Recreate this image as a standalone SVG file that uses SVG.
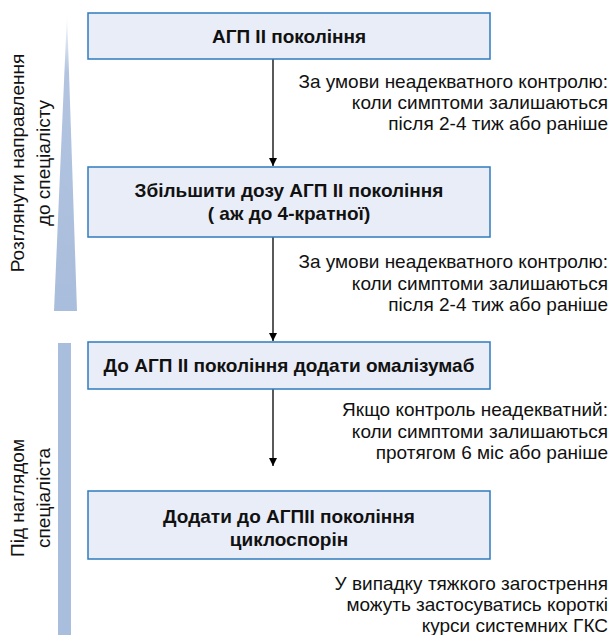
<svg xmlns="http://www.w3.org/2000/svg" width="614" height="635" viewBox="0 0 614 635">
<defs>
<linearGradient id="tri" x1="0" y1="0" x2="0" y2="1">
<stop offset="0" stop-color="#a9bddc" stop-opacity="0"/>
<stop offset="0.2" stop-color="#a9bddc" stop-opacity="0.9"/>
<stop offset="1" stop-color="#a9bddc"/>
</linearGradient>
<marker id="arr" viewBox="0 0 10 10" refX="10" refY="5" markerWidth="8" markerHeight="9" markerUnits="userSpaceOnUse" orient="auto">
<path d="M0,0 L10,5 L0,10 z" fill="#000"/>
</marker>
<style>
.box{fill:#e9edf8;stroke:#2f7bbd;stroke-width:1.5}
.bt{font-family:"Liberation Sans",Arial,sans-serif;font-size:19px;font-weight:bold;fill:#111;text-anchor:middle}
.st{font-family:"Liberation Sans",Arial,sans-serif;font-size:19px;fill:#111;text-anchor:end}
.vt{font-family:"Liberation Sans",Arial,sans-serif;font-size:19px;fill:#111;text-anchor:middle}
.ln{stroke:#000;stroke-width:1.3;fill:none}
</style>
</defs>
<rect width="614" height="635" fill="#fff"/>
<g id="side">
<polygon points="67,13 77,311 54,311" fill="url(#tri)"/>
<rect x="58" y="343" width="13" height="292" fill="#a9bddc"/>
<text class="vt" transform="translate(24,163) rotate(-90)">Розглянути направлення</text>
<text class="vt" transform="translate(50,163) rotate(-90)">до спеціалісту</text>
<text class="vt" transform="translate(24,498) rotate(-90)">Під наглядом</text>
<text class="vt" transform="translate(50,498) rotate(-90)">спеціаліста</text>
</g>
<g id="connectors">
<line class="ln" x1="273" y1="59" x2="273" y2="166" marker-end="url(#arr)"/>
<line class="ln" x1="273" y1="237" x2="273" y2="341" marker-end="url(#arr)"/>
<line class="ln" x1="273" y1="389" x2="273" y2="466" marker-end="url(#arr)"/>
</g>
<g id="node1">
<rect class="box" x="88" y="13" width="402" height="46"/>
<text class="bt" x="289" y="43">АГП II покоління</text>
</g>
<g id="node2">
<rect class="box" x="88" y="167" width="402" height="70"/>
<text class="bt" x="289" y="197">Збільшити дозу АГП II покоління</text>
<text class="bt" x="289" y="220">( аж до 4-кратної)</text>
</g>
<g id="node3">
<rect class="box" x="88" y="342" width="402" height="47"/>
<text class="bt" x="289" y="372">До АГП II покоління додати омалізумаб</text>
</g>
<g id="node4">
<rect class="box" x="88" y="491" width="402" height="68"/>
<text class="bt" x="289" y="523">Додати до АГПІІ покоління</text>
<text class="bt" x="289" y="546">циклоспорін</text>
</g>
<g id="labels">
<text class="st" x="608" y="88">За умови неадекватного контролю:</text>
<text class="st" x="608" y="109">коли симптоми залишаються</text>
<text class="st" x="608" y="130">після 2-4 тиж або раніше</text>
<text class="st" x="608" y="268">За умови неадекватного контролю:</text>
<text class="st" x="608" y="290">коли симптоми залишаються</text>
<text class="st" x="608" y="311">після 2-4 тиж або раніше</text>
<text class="st" x="608" y="416">Якщо контроль неадекватний:</text>
<text class="st" x="608" y="438">коли симптоми залишаються</text>
<text class="st" x="608" y="459">протягом 6 міс або раніше</text>
<text class="st" x="608" y="590">У випадку тяжкого загострення</text>
<text class="st" x="608" y="611">можуть застосуватись короткі</text>
<text class="st" x="608" y="632">курси системних ГКС</text>
</g>
</svg>
